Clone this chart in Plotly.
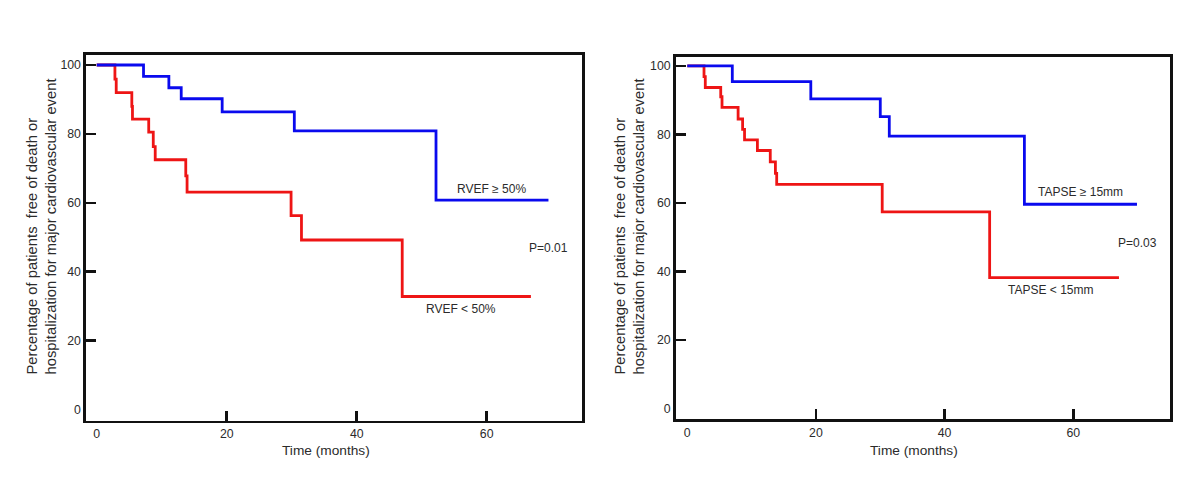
import plotly.graph_objects as go

W, H = 1200, 493

# ---- data ----
x_tick_vals = [0, 20, 40, 60]
x_tick_marks = [20, 40, 60]
y_tick_vals = [0, 20, 40, 60, 80, 100]
y_tick_marks = [20, 40, 60, 80, 100]

rvef_hi_t = [0, 7.2, 11.1, 13.0, 19.3, 30.4, 52.2, 69.5]
rvef_hi_s = [100, 96.7, 93.4, 90.2, 86.4, 80.9, 60.8, 60.8]
rvef_lo_t = [0, 2.8, 3.0, 5.4, 5.5, 8.0, 8.7, 9.0, 13.7, 13.9, 29.9, 31.5, 47.0, 66.8]
rvef_lo_s = [100, 95.9, 92.0, 88.0, 84.3, 80.5, 76.3, 72.5, 67.8, 63.1, 56.3, 49.2, 32.8, 32.8]

tapse_hi_t = [0, 7.0, 19.2, 30.0, 31.4, 52.4, 69.9]
tapse_hi_s = [100, 95.4, 90.4, 85.2, 79.5, 59.6, 59.6]
tapse_lo_t = [0, 2.6, 2.8, 5.2, 5.4, 7.9, 8.6, 8.9, 10.9, 12.9, 13.7, 13.9, 30.3, 47.0, 67.1]
tapse_lo_s = [100, 96.9, 93.7, 91.0, 87.9, 84.5, 81.5, 78.4, 75.3, 72.0, 68.6, 65.4, 57.4, 38.2, 38.2]

BLUE = "#0a0aee"
RED = "#ee1515"
TXT = "#2b2b2b"
FONT = "Liberation Sans, Arial, sans-serif"


def px(x):
    return x / W


def py(y):
    return 1 - y / H


fig = go.Figure()

fig.add_trace(go.Scatter(x=rvef_lo_t, y=rvef_lo_s, mode="lines", line=dict(color=RED, width=2.8, shape="hv"),
                         xaxis="x", yaxis="y", showlegend=False))
fig.add_trace(go.Scatter(x=rvef_hi_t, y=rvef_hi_s, mode="lines", line=dict(color=BLUE, width=2.8, shape="hv"),
                         xaxis="x", yaxis="y", showlegend=False))
fig.add_trace(go.Scatter(x=tapse_lo_t, y=tapse_lo_s, mode="lines", line=dict(color=RED, width=2.8, shape="hv"),
                         xaxis="x2", yaxis="y2", showlegend=False))
fig.add_trace(go.Scatter(x=tapse_hi_t, y=tapse_hi_s, mode="lines", line=dict(color=BLUE, width=2.8, shape="hv"),
                         xaxis="x2", yaxis="y2", showlegend=False))
# empty traces to activate the tick-mark overlay axes
fig.add_trace(go.Scatter(x=[], y=[], xaxis="x3", yaxis="y3", showlegend=False, hoverinfo="skip"))
fig.add_trace(go.Scatter(x=[], y=[], xaxis="x4", yaxis="y4", showlegend=False, hoverinfo="skip"))

tickfont = dict(family=FONT, size=12.3, color=TXT)


def main_x(domain, rng, anchor):
    return dict(domain=domain, range=rng, anchor=anchor, tickmode="array", tickvals=x_tick_vals,
                ticks="", showgrid=False, zeroline=False, showline=True, mirror=True, automargin=False,
                linecolor="#111111", linewidth=2.6, tickfont=tickfont, fixedrange=True)


def main_y(domain, rng, anchor):
    return dict(domain=domain, range=rng, anchor=anchor, tickmode="array", tickvals=y_tick_vals,
                ticks="", showgrid=False, zeroline=False, showline=True, mirror=True, automargin=False,
                linecolor="#111111", linewidth=2.6, tickfont=tickfont, fixedrange=True)


def over_x(over, rng, anchor):
    return dict(overlaying=over, range=rng, anchor=anchor, tickmode="array", tickvals=x_tick_marks,
                ticks="inside", ticklen=10, tickwidth=2.6, tickcolor="#111111", showticklabels=False,
                automargin=False, showgrid=False, zeroline=False, showline=False, fixedrange=True)


def over_y(over, rng, anchor):
    return dict(overlaying=over, range=rng, anchor=anchor, tickmode="array", tickvals=y_tick_marks,
                ticks="inside", ticklen=10, tickwidth=2.6, tickcolor="#111111", showticklabels=False,
                automargin=False, showgrid=False, zeroline=False, showline=False, fixedrange=True)


xr1 = [-1.65, 74.66]
yr1 = [-3.25, 102.9]
xr2 = [-1.80, 75.08]
yr2 = [-3.2, 102.7]

fig.update_layout(
    width=W, height=H,
    margin=dict(l=0, r=0, t=0, b=0, pad=0),
    paper_bgcolor="white", plot_bgcolor="white",
    showlegend=False,
    xaxis=main_x([px(86), px(582)], xr1, "y"),
    yaxis=main_y([py(420.7), py(55)], yr1, "x"),
    xaxis2=main_x([px(675.7), px(1170.3)], xr2, "y2"),
    yaxis2=main_y([py(419.3), py(56.7)], yr2, "x2"),
    xaxis3=over_x("x", xr1, "y"),
    yaxis3=over_y("y", yr1, "x"),
    xaxis4=over_x("x2", xr2, "y2"),
    yaxis4=over_y("y2", yr2, "x2"),
)

ytitle = "Percentage of patients&nbsp; free of death or<br>hospitalization for major cardiovascular event"
annots = [
    dict(text="Time (months)", x=px(326), y=py(450.7), size=13.7),
    dict(text="Time (months)", x=px(913.7), y=py(450.7), size=13.7),
    dict(text="RVEF ≥ 50%", x=px(491.7), y=py(189.3), size=12),
    dict(text="P=0.01", x=px(548.7), y=py(247.7), size=12),
    dict(text="RVEF < 50%", x=px(461.3), y=py(309.3), size=12),
    dict(text="TAPSE ≥ 15mm", x=px(1080), y=py(192.3), size=12),
    dict(text="P=0.03", x=px(1137), y=py(242.7), size=12),
    dict(text="TAPSE < 15mm", x=px(1050), y=py(290), size=12),
]
for a in annots:
    fig.add_annotation(text=a["text"], x=a["x"], y=a["y"], xref="paper", yref="paper",
                       xanchor="center", yanchor="middle", showarrow=False,
                       font=dict(family=FONT, size=a["size"], color=TXT))

for cx in (40.5, 628.5):
    fig.add_annotation(text=ytitle, x=px(cx), y=py(377), xref="paper", yref="paper",
                       xanchor="center", yanchor="bottom", textangle=-90, align="left",
                       showarrow=False, font=dict(family=FONT, size=14.8, color=TXT))

fig.write_html(
    "out.html",
    config={"displayModeBar": False, "staticPlot": True},
    post_script="document.body.style.margin='0';document.body.style.padding='0';"
                "document.body.style.overflow='hidden';",
)
